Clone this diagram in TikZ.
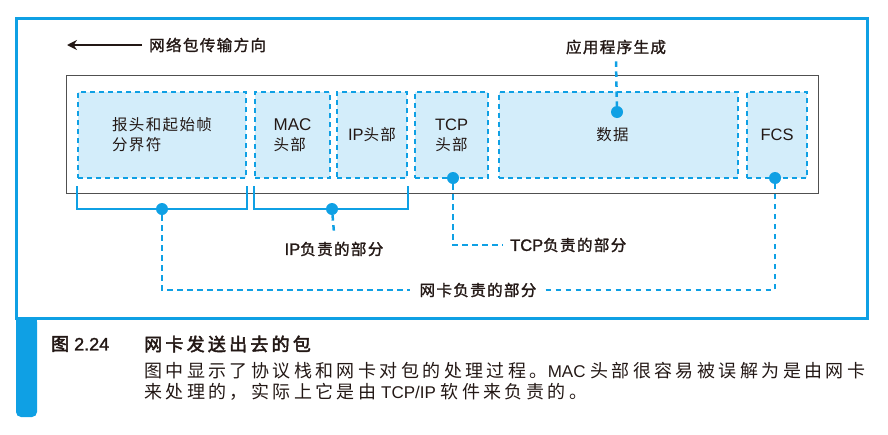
\documentclass[tikz,border=0pt]{standalone}
\usepackage{fontspec}
\setmainfont{Noto Sans CJK SC}
\newfontfamily\labfont[LetterSpace=9]{Noto Sans CJK SC}
\newfontfamily\labmfont[LetterSpace=9,FakeBold=1.6]{Noto Sans CJK SC}
\newfontfamily\capfont[LetterSpace=19]{Noto Sans CJK SC}
\newfontfamily\capmfont[LetterSpace=18,FakeBold=2.6]{Noto Sans CJK SC}
\newfontfamily\latfont{Liberation Sans}
\newfontfamily\latmfont[FakeBold=1.4]{Liberation Sans}
\newcommand\latr[1]{{\latfont #1}}
\newcommand\latm[1]{{\latmfont #1}}
\usetikzlibrary{arrows.meta}
\definecolor{cblue}{HTML}{0FA0E4}
\definecolor{cfill}{HTML}{D3EDFA}
\definecolor{ctext}{HTML}{231815}
\definecolor{cgray}{HTML}{505050}
\tikzset{
  pbox/.style={draw=cblue, fill=cfill, line width=2.3pt, dash pattern=on 5pt off 4pt,
    inner sep=0pt, font=\labfont\fontsize{15.5}{20}\selectfont, text=ctext},
  dotn/.style={circle, fill=cblue, inner sep=0pt, minimum size=12pt},
  bracketline/.style={draw=cblue, line width=2.6pt},
  conn/.style={draw=cblue, line width=2.5pt, dash pattern=on 5.5pt off 4.5pt},
  lab/.style={font=\labmfont\fontsize{15.5}{20}\selectfont, text=ctext, inner sep=7pt},
  captext/.style={font=\capfont\fontsize{18}{21}\selectfont, text=ctext, inner sep=0pt, anchor=west},
  captitle/.style={captext, font=\capmfont\fontsize{18}{21}\selectfont}
}
\begin{document}
\begin{tikzpicture}[x=1pt,y=-1pt]
\useasboundingbox (0,0) rectangle (888,434);
% frame
\draw[cblue, line width=3pt] (16,18) rectangle (867,318);
\fill[cblue, rounded corners=5pt] (16,317) -- (16,417) -- (37,417) -- (37,317) -- cycle;
\fill[cblue] (16,317) rectangle (37,330);
% direction arrow
\node[lab, anchor=west] (dir) at (142,45) {网络包传输方向};
\coordinate (arrtip) at (67,45);
\draw[ctext, line width=1.6pt, -{Stealth[length=10pt,width=10pt]}] (dir.west) -- (arrtip);
% gray packet box
\draw[cgray, line width=0.9pt] (66,75) rectangle (818,193);
% fields
\node[pbox, minimum width=168pt, minimum height=86pt, align=left] (b1) at (162,135) {报头和起始帧\\分界符};
\node[pbox, minimum width=75pt, minimum height=86pt, align=left] (b2) at (292.5,135) {\latr{\fontsize{17}{20}\selectfont MAC}\\头部};
\node[pbox, minimum width=70pt, minimum height=86pt] (b3) at (372,135) {\latr{\fontsize{16.5}{20}\selectfont IP}头部};
\node[pbox, minimum width=73pt, minimum height=86pt, align=center] (b4) at (451.5,135) {\latr{\fontsize{16.5}{20}\selectfont TCP}\\头部};
\node[pbox, minimum width=239pt, minimum height=86pt] (b5) at (618.5,135) {\hspace*{-12pt}数据};
\node[pbox, minimum width=60pt, minimum height=86pt] (b6) at (777,135) {\latr{\fontsize{16.5}{20}\selectfont FCS}};
% dots
\node[dotn] (ddata) at (617,112) {};
\node[dotn] (dtcp) at (453,178) {};
\node[dotn] (dfcs) at (775,178) {};
\node[dotn] (dbr1) at (162,209) {};
\node[dotn] (dbr2) at (332,209) {};
% brackets
\draw[bracketline] ([yshift=-7pt]b1.south west) |- (dbr1) -| ([yshift=-7pt]b1.south east);
\draw[bracketline] ([yshift=-7pt]b2.south west) |- (dbr2) -| ([yshift=-7pt]b3.south east);
% labels
\node[lab] (appl) at (616,47) {应用程序生成};
\node[lab] (ipl) at (334,249) {\latm{\fontsize{16.5}{20}\selectfont IP}负责的部分};
\node[lab, anchor=west] (tcpl) at (503,245) {\latm{\fontsize{16.5}{20}\selectfont TCP}负责的部分};
\node[lab, inner sep=9pt] (nicl) at (478,290) {网卡负责的部分};
% connectors
\draw[conn] (appl.south) -- (ddata);
\draw[conn] (dbr2) -- ([yshift=2pt]ipl.north);
\draw[conn] (dtcp) |- (tcpl.west);
\draw[conn] (dbr1) |- (nicl.west);
\draw[conn] (nicl.east) -| (dfcs);
% caption
\node[captitle] (fignum) at (51,344) {图\hspace{5pt}\latm{\fontsize{18}{21}\selectfont 2.24}};
\node[captitle] (figtitle) at (144,344) {网卡发送出去的包};
\node[captext] (body1) at (144,370.5) {图中显示了协议栈和网卡对包的处理过程。\latr{\fontsize{17}{21}\selectfont MAC }头部很容易被误解为是由网卡};
\node[captext] (body2) at (144,392) {来处理的，实际上它是由\latr{\fontsize{17}{21}\selectfont{} TCP/IP }软件来负责的。};
\end{tikzpicture}
\end{document}
